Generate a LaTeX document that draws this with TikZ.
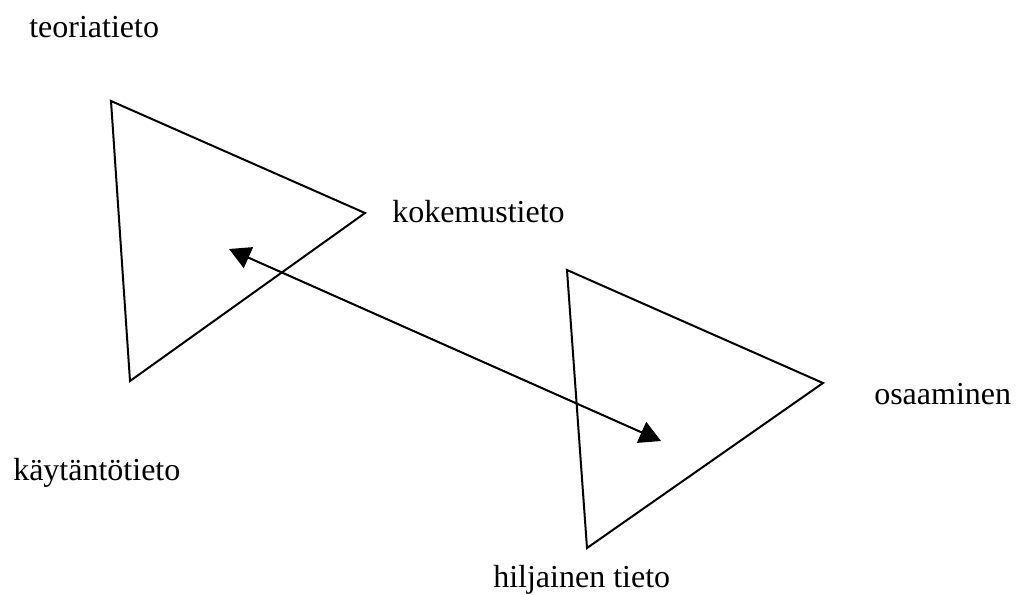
\documentclass[tikz,border=0pt]{standalone}
\usepackage{fontspec}
\setmainfont{Liberation Serif}
\usetikzlibrary{arrows.meta}
\begin{document}
\begin{tikzpicture}[x=0.75pt,y=-0.75pt,
  label/.style={anchor=base west,inner sep=0pt,font=\fontsize{24}{28}\selectfont},
  edge/.style={line width=1.5pt,line join=miter},
  link/.style={line width=1.5pt,{Triangle[length=16pt,width=17pt]}-{Triangle[length=16pt,width=17pt]}}]
\useasboundingbox (0,0) rectangle (1017,594);
% left triangle
\coordinate (a1) at (111,101);
\coordinate (a2) at (365,213);
\coordinate (a3) at (130,381);
\draw[edge] (a1) -- (a2) -- (a3) -- cycle;
% right triangle
\coordinate (b1) at (567,270);
\coordinate (b2) at (823,383);
\coordinate (b3) at (587,548);
\draw[edge] (b1) -- (b2) -- (b3) -- cycle;
% double-headed arrow between the triangles
\coordinate (p) at (229,249);
\coordinate (q) at (661,441);
\draw[link] (p) -- (q);
% labels
\node[label] (teoria) at (29,37) {teoriatieto};
\node[label] (kokemus) at (392,222) {kokemustieto};
\node[label] (kaytanto) at (13,480) {käytäntötieto};
\node[label] (osaaminen) at (874,404) {osaaminen};
\node[label] (hiljainen) at (493,587) {hiljainen tieto};
\end{tikzpicture}
\end{document}
